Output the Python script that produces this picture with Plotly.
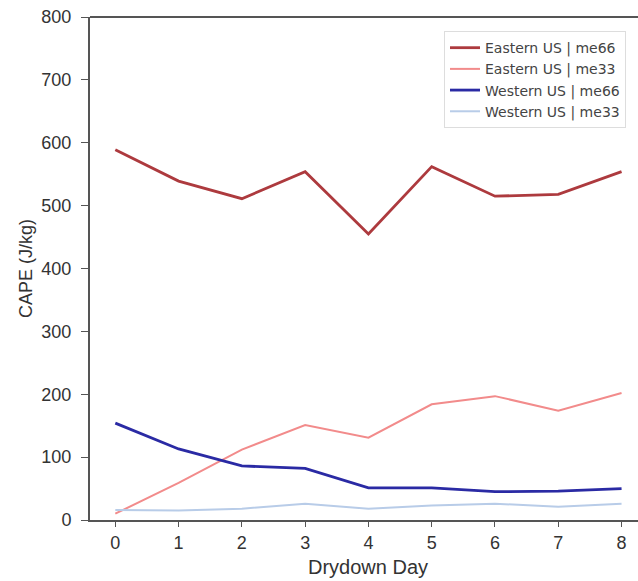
import plotly.graph_objects as go

days = [0, 1, 2, 3, 4, 5, 6, 7, 8]
eastern_me66 = [589, 539, 511, 554, 455, 562, 515, 518, 554]
eastern_me33 = [10, 59, 112, 151, 131, 184, 197, 174, 202]
western_me66 = [154, 113, 86, 82, 51, 51, 45, 46, 50]
western_me33 = [16, 15, 18, 26, 18, 23, 26, 21, 26]
series_names = ["Eastern US | me66", "Eastern US | me33", "Western US | me66", "Western US | me33"]
y_ticks = [0, 100, 200, 300, 400, 500, 600, 700, 800]

colors = ["#ad3a3e", "#f28b8b", "#2a2aa4", "#b8cce8"]
widths = [2.8, 2.0, 2.8, 2.0]

LIB = "Liberation Sans, Arial, sans-serif"

fig = go.Figure()
for name, vals, c, w in zip(series_names, [eastern_me66, eastern_me33, western_me66, western_me33], colors, widths):
    fig.add_trace(go.Scatter(x=days, y=vals, mode="lines", name=name,
                             line=dict(color=c, width=w)))

tick_font = dict(family=LIB, size=18, color="#333333")
fig.update_layout(
    width=638, height=581,
    margin=dict(l=90, r=0, t=17, b=61),
    paper_bgcolor="white", plot_bgcolor="white",
    font=dict(family=LIB, color="#333333"),
    showlegend=True,
    legend=dict(x=0.646, y=0.972, xanchor="left", yanchor="top",
                bgcolor="rgba(255,255,255,0.9)", bordercolor="#dddddd", borderwidth=1,
                font=dict(family="DejaVu Sans", size=14, color="#444444"),
                tracegroupgap=0),
    xaxis=dict(range=[-0.4, 8.26], tickvals=days, ticktext=[str(d) for d in days],
               showgrid=False, zeroline=False, showline=True, linecolor="#555555", linewidth=2,
               ticks="outside", ticklen=5, tickcolor="#555555", tickfont=tick_font,
               ticklabeloverflow="allow"),
    yaxis=dict(range=[0, 800], tickvals=y_ticks, ticktext=[str(v) + "\u2004" for v in y_ticks],
               showgrid=False, zeroline=False, showline=True, linecolor="#555555", linewidth=2,
               ticks="outside", ticklen=7, tickcolor="#555555", tickfont=tick_font,
               ticklabeloverflow="allow",
               title=dict(text="CAPE (J/kg)", font=dict(family=LIB, size=18, color="#333333"), standoff=4)),
    annotations=[dict(text="Drydown Day", xref="paper", yref="paper", x=0.508, y=0,
                      yshift=-47, xanchor="center", yanchor="middle", showarrow=False,
                      font=dict(family=LIB, size=20, color="#333333"))],
    shapes=[dict(type="line", xref="paper", yref="paper", x0=0, x1=1, y0=1, y1=1,
                 line=dict(color="#555555", width=2))],
)

fig.write_html("out.html", config={"displayModeBar": False},
               post_script="document.body.style.margin='0px';")
